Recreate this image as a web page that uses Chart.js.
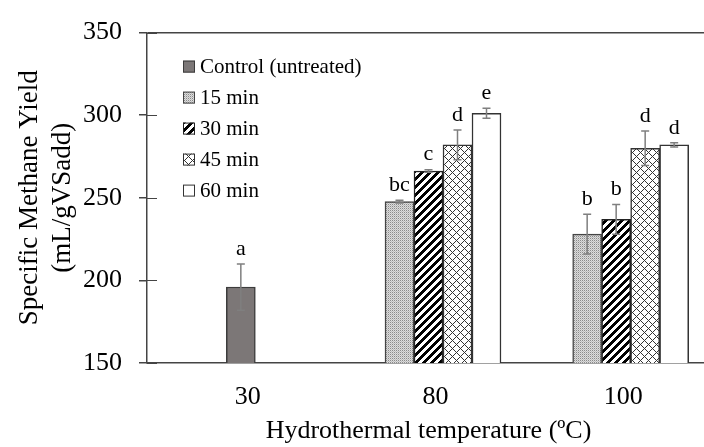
<!DOCTYPE html>
<html>
<head>
<meta charset="utf-8">
<script src="https://cdn.jsdelivr.net/npm/chart.js@4.4.0/dist/chart.umd.min.js"></script>
<style>
html, body { margin: 0; padding: 0; background: #fff; overflow: hidden; }
canvas { display: block; }
</style>
</head>
<body>
<canvas id="myChart" width="712" height="447"></canvas>
<script>
// data
const temps = ["30", "80", "100"];
const yTicks = [150, 200, 250, 300, 350];

const controlYield = [196, null, null];
const controlErr = [14, null, null];
const controlLetters = ["a", "", ""];

const min15 = [null, 247.7, 228];
const min15Err = [null, 0.8, 12];
const min15Letters = ["", "bc", "b"];

const min30 = [null, 266.2, 237];
const min30Err = [null, 0.8, 9];
const min30Letters = ["", "c", "b"];

const min45 = [null, 282, 280];
const min45Err = [null, 9, 10.5];
const min45Letters = ["", "d", "d"];

const min60 = [null, 301.2, 282];
const min60Err = [null, 3, 1.3];
const min60Letters = ["", "e", "d"];

const serif = "'Liberation Serif', 'Times New Roman', serif";

// hatch patterns
function makePattern(size, pixel) {
  const c = document.createElement("canvas");
  c.width = size; c.height = size;
  const g = c.getContext("2d");
  for (let x = 0; x < size; x++) {
    for (let y = 0; y < size; y++) {
      g.fillStyle = pixel(x, y);
      g.fillRect(x, y, 1, 1);
    }
  }
  return g.createPattern(c, "repeat");
}
const dots = makePattern(2, (x, y) => (x + y) % 2 ? "#dcdcdc" : (x == 0 ? "#8a8a8a" : "#bdbdbd"));
const stripes = makePattern(8, (x, y) => ((x + y) % 8) < 4 ? "#000" : "#fff");
const cross = makePattern(8, (x, y) => ((x + y) % 8 == 0 || (x - y + 8) % 8 == 0) ? "#333" : "#fff");

const controlColor = "#7c7777";
const barW = 29;

const errorBars = {
  id: "errorBars",
  afterDatasetsDraw(chart) {
    const ctx = chart.ctx;
    const yScale = chart.scales.y;
    chart.data.datasets.forEach((ds, di) => {
      if (!ds.errors) return;
      const meta = chart.getDatasetMeta(di);
      meta.data.forEach((bar, i) => {
        const v = ds.data[i];
        if (v == null) return;
        const top = yScale.getPixelForValue(v + ds.errors[i]);
        const bot = yScale.getPixelForValue(v - ds.errors[i]);
        ctx.save();
        ctx.strokeStyle = "#7f7f7f";
        ctx.lineWidth = 1.5;
        ctx.beginPath();
        ctx.moveTo(bar.x, top); ctx.lineTo(bar.x, bot);
        ctx.moveTo(bar.x - 4, top); ctx.lineTo(bar.x + 4, top);
        ctx.moveTo(bar.x - 4, bot); ctx.lineTo(bar.x + 4, bot);
        ctx.stroke();
        if (ds.letters && ds.letters[i]) {
          ctx.fillStyle = "#000";
          ctx.font = "22px " + serif;
          ctx.textAlign = "center";
          ctx.textBaseline = "middle";
          ctx.fillText(ds.letters[i], bar.x, top - 15);
        }
        ctx.restore();
      });
    });
  }
};

const innerTicks = {
  id: "innerTicks",
  afterDraw(chart) {
    const ctx = chart.ctx;
    const s = chart.scales.y;
    ctx.save();
    ctx.strokeStyle = "#444";
    ctx.lineWidth = 1;
    s.ticks.forEach(t => {
      const p = Math.round(s.getPixelForValue(t.value)) + 0.5;
      ctx.beginPath();
      ctx.moveTo(s.right, p);
      ctx.lineTo(s.right + 10, p);
      ctx.stroke();
    });
    ctx.restore();
  }
};

const boxLegend = {
  id: "boxLegend",
  afterDraw(chart) {
    const ctx = chart.ctx;
    const area = chart.chartArea;
    const x = area.left + 36;
    let y = area.top + 34;
    ctx.save();
    chart.data.datasets.forEach(ds => {
      if (!ds.label) return;
      ctx.fillStyle = ds.backgroundColor;
      ctx.fillRect(x, y - 6, 12, 12);
      ctx.strokeStyle = ds.borderColor;
      ctx.lineWidth = 1;
      ctx.strokeRect(x + 0.5, y - 5.5, 11, 11);
      ctx.fillStyle = "#000";
      ctx.font = "21px " + serif;
      ctx.textAlign = "left";
      ctx.textBaseline = "middle";
      ctx.fillText(ds.label, x + 17, y + 1);
      y += 31;
    });
    ctx.restore();
  }
};

const ctx = document.getElementById("myChart").getContext("2d");
const chart = new Chart(ctx, {
  type: "bar",
  data: {
    labels: temps,
    datasets: [
      // control sits alone, centred on its category
      { label: "Control (untreated)", data: controlYield, errors: controlErr, letters: controlLetters,
        grouped: false, backgroundColor: controlColor, borderColor: "#3c3c3c", borderWidth: 1.5,
        barThickness: barW },
      // empty slot, keeps the treated bars right of centre like the original
      { label: "", data: [null, null, null], backgroundColor: "#fff", barThickness: barW },
      { label: "15 min", data: min15, errors: min15Err, letters: min15Letters,
        backgroundColor: dots, borderColor: "#444", borderWidth: 1.5, barThickness: barW },
      { label: "30 min", data: min30, errors: min30Err, letters: min30Letters,
        backgroundColor: stripes, borderColor: "#222", borderWidth: 1.5, barThickness: barW },
      { label: "45 min", data: min45, errors: min45Err, letters: min45Letters,
        backgroundColor: cross, borderColor: "#333", borderWidth: 1.5, barThickness: barW },
      { label: "60 min", data: min60, errors: min60Err, letters: min60Letters,
        backgroundColor: "#fff", borderColor: "#333", borderWidth: 1.5, barThickness: barW }
    ]
  },
  options: {
    responsive: false,
    animation: false,
    layout: { padding: { top: 24, right: 2, left: 0, bottom: 0 } },
    plugins: { legend: { display: false }, tooltip: { enabled: false } },
    scales: {
      x: {
        grid: { display: false, drawTicks: false },
        border: { display: true, color: "#444", width: 1.5 },
        ticks: { color: "#000", font: { family: serif, size: 26 }, padding: 19, labelOffset: 7 },
        title: { display: true, text: "Hydrothermal temperature (ºC)", color: "#000",
          font: { family: serif, size: 26 }, padding: { top: 0, bottom: 0 } },
        afterFit: s => { s.height = 84; }
      },
      y: {
        min: yTicks[0],
        max: yTicks[yTicks.length - 1],
        ticks: { stepSize: yTicks[1] - yTicks[0], color: "#000", font: { family: serif, size: 26 }, padding: 17 },
        grid: {
          drawOnChartArea: true,
          color: c => c.tick && c.tick.value === yTicks[yTicks.length - 1] ? "#444" : "rgba(0,0,0,0)",
          tickColor: "#444",
          tickLength: 8,
          lineWidth: 1.5
        },
        border: { display: true, color: "#444", width: 1.5 },
        title: { display: true, text: ["Specific Methane Yield", "(mL/gVSadd)"], color: "#000",
          font: { family: serif, size: 27, lineHeight: 1.2 }, padding: { top: 14, bottom: 0 } },
        afterFit: s => { s.width = 147; }
      }
    }
  },
  plugins: [errorBars, innerTicks, boxLegend]
});
</script>
</body>
</html>
